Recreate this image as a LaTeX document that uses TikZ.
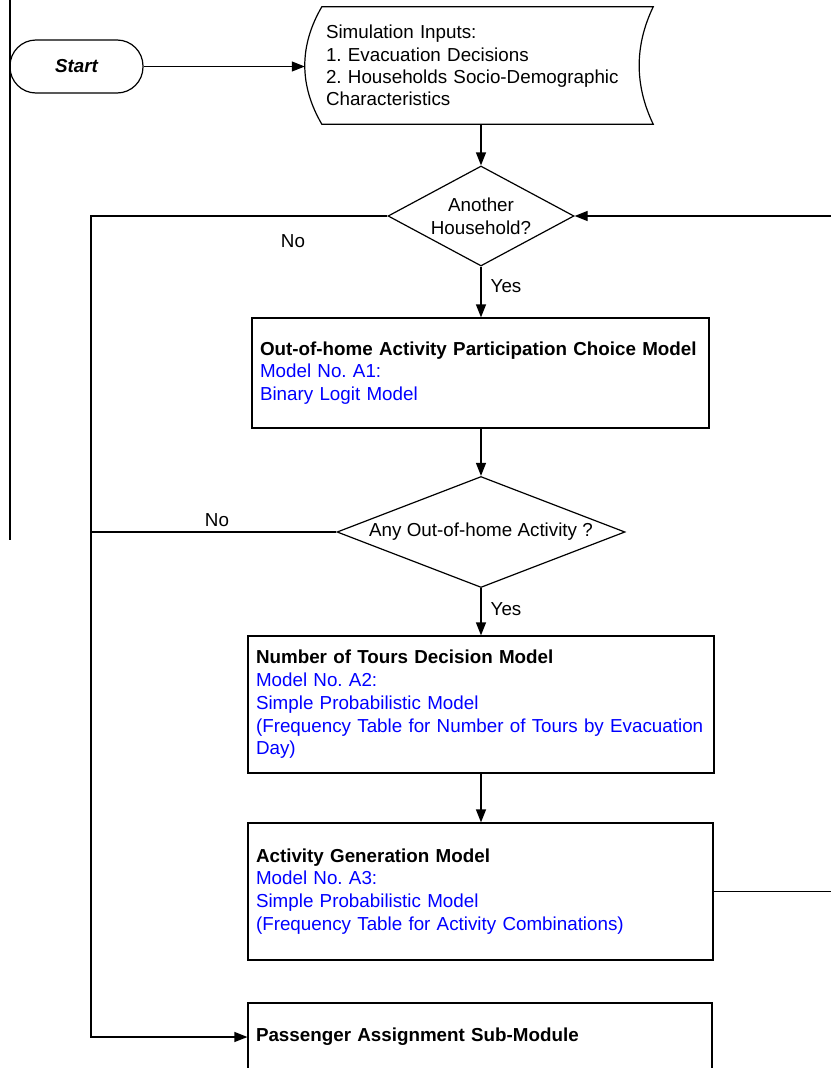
\documentclass[tikz,border=0pt]{standalone}
\usepackage{fontspec}
\setmainfont{Liberation Sans}
\usetikzlibrary{positioning,arrows.meta,calc,shapes.geometric}
\tikzset{
  zacatek/.style={rectangle,rounded corners=26pt,draw,line width=1.2pt,minimum width=133pt,minimum height=53pt,font=\fontsize{18.8}{21}\selectfont\bfseries\itshape},
  blok/.style={rectangle,draw,line width=1.2pt,align=left,inner xsep=8pt,inner ysep=0pt,font=\fontsize{18.8}{22.8}\selectfont},
  rozh/.style={diamond,draw,line width=1.2pt,inner sep=0pt,align=center,font=\fontsize{18.8}{22.8}\selectfont},
  popis/.style={font=\fontsize{18.8}{21}\selectfont},
  hrana/.style={line width=1.2pt},
  sip/.style={-{Triangle[length=13pt,width=10pt]},line width=1.2pt},
}

\begin{document}
\frenchspacing
\begin{tikzpicture}[x=1pt,y=-1pt]
\useasboundingbox (0,0) rectangle (830,1068);
\draw[hrana] (10,0) -- (10,540);
\node[zacatek] (start) at (76.5,66.5) {Start};
\node[align=left,minimum width=348pt,minimum height=117pt,text width=306pt,inner xsep=21pt,inner ysep=0pt,
  font=\fontsize{18.8}{22.4}\selectfont] (vstup) at (479,65.5)
  {Simulation Inputs:\\1. Evacuation Decisions\\2. Households Socio-Demographic\\Characteristics};
\draw[hrana] ($(vstup.north west)+(17,0)$) -- (vstup.north east)
  .. controls ($(vstup.north east)+(-18.7,39)$) and ($(vstup.south east)+(-18.7,-39)$) .. (vstup.south east)
  -- ($(vstup.south west)+(17,0)$)
  .. controls ($(vstup.south west)+(-5.7,-39)$) and ($(vstup.north west)+(-5.7,39)$) .. ($(vstup.north west)+(17,0)$) -- cycle;
\node[rozh,aspect=1.86,minimum width=186pt,minimum height=100pt] (d1) at (481,216) {Another\\Household?};
\node[blok,minimum width=457pt,minimum height=110pt,text width=441pt] (a1) at (480.5,373)
  {\textbf{Out-of-home Activity Participation Choice Model}\\
   \textcolor{blue}{Model No. A1:}\\
   \textcolor{blue}{Binary Logit Model}};
\node[rozh,aspect=2.6,minimum width=288pt,minimum height=111pt] (d2) at (481,532) {Any Out-of-home Activity ?};
\node[blok,minimum width=466pt,minimum height=137pt,text width=450pt] (a2) at (481,704.5)
  {\textbf{Number of Tours Decision Model}\\
   \textcolor{blue}{Model No. A2:}\\
   \textcolor{blue}{Simple Probabilistic Model}\\
   \textcolor{blue}{(Frequency Table for Number of Tours by Evacuation}\\
   \textcolor{blue}{Day)}};
\node[blok,minimum width=465pt,minimum height=137pt,text width=449pt] (a3) at (480.5,891.5)
  {\textbf{Activity Generation Model}\\
   \textcolor{blue}{Model No. A3:}\\
   \textcolor{blue}{Simple Probabilistic Model}\\
   \textcolor{blue}{(Frequency Table for Activity Combinations)}};
\node[blok,minimum width=464pt,minimum height=68pt,text width=448pt] (pam) at (480,1037)
  {\textbf{Passenger Assignment Sub-Module}};
\coordinate (levy) at (91,216);
\coordinate (pravy) at (833,216);
\draw[sip] (start.east) -- (start.east -| vstup.west);
\draw[sip] (vstup.south -| d1.north) -- (d1.north);
\draw[sip] (d1.south) -- (d1.south |- a1.north);
\draw[sip] (a1.south -| d2.north) -- (d2.north);
\draw[sip] (d2.south) -- (d2.south |- a2.north);
\draw[sip] (a2.south) -- (a2.south |- a3.north);
\draw[sip] (d1.west) -- (levy) |- (pam.west);
\draw[hrana] (d2.west) -- (d2.west -| levy);
\draw[sip] (a3.east) -| (pravy) -- (d1.east);
\node[popis] (ne1) at (293,241) {No};
\node[popis] (ne2) at (217,520) {No};
\node[popis] (ano1) at (506,286) {Yes};
\node[popis] (ano2) at (506,609) {Yes};
\end{tikzpicture}
\end{document}
